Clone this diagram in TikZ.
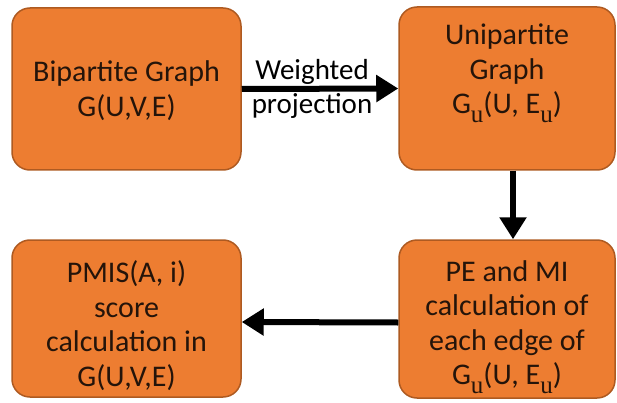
\documentclass[tikz,border=0pt]{standalone}
\usepackage{fontspec}
\setmainfont{Carlito}
\newfontfamily\subfont{Liberation Serif}
\usetikzlibrary{arrows.meta}
\definecolor{boxfill}{HTML}{ED7D31}
\definecolor{boxedge}{HTML}{AE5A21}
\definecolor{boxtext}{HTML}{24140A}
% lowered serif "u" used as subscript
\newcommand\subu{\raisebox{-9pt}{\fontsize{25}{25}\selectfont\subfont u}}
\begin{document}
\begin{tikzpicture}[x=1pt,y=-1pt,
  stepbox/.style={draw=boxedge, line width=1.5pt, fill=boxfill,
    rounded corners=18pt, inner sep=0pt},
  boxlabel/.style={text=boxtext, align=center, inner sep=0pt,
    font=\fontsize{30}{34.5}\selectfont},
  flow/.style={line width=6pt, -{Triangle[length=22pt,width=26pt]}}]
\useasboundingbox (0,0) rectangle (617,403);

% boxes
\node[stepbox, minimum width=229pt, minimum height=162pt] (bip) at (126.5,89) {};
\node[stepbox, minimum width=216pt, minimum height=163pt] (uni) at (507,88.5) {};
\node[stepbox, minimum width=229pt, minimum height=157pt] (pmis) at (126.5,318.5) {};
\node[stepbox, minimum width=216pt, minimum height=158pt] (pemi) at (507,319) {};

% box texts
\node[boxlabel] (bipT) at (126.5,90.5) {Bipartite Graph\\G(U,V,E)};
\node[boxlabel] (uniT) at (507,73.5) {Unipartite\\Graph\\G\subu(U, E\subu)};
\node[boxlabel] (pmisT) at (126.5,325.5) {PMIS(A, i)\\score\\calculation in\\G(U,V,E)};
\node[boxlabel] (pemiT) at (507,327) {PE and MI\\calculation of\\each edge of\\G\subu(U, E\subu)};

% connectors
\draw[flow] (bip.east) -- (uni.west)
  node[boxlabel, text=black, font=\fontsize{29}{34.5}\selectfont,
       midway, xshift=-8pt] (proj) {Weighted\\projection};
\draw[flow] ([xshift=6pt]uni.south) -- ([xshift=6pt]pemi.north);
\draw[flow] ([yshift=-3.5pt]pemi.west) -- ([yshift=-3.5pt]pmis.east);
\end{tikzpicture}
\end{document}
